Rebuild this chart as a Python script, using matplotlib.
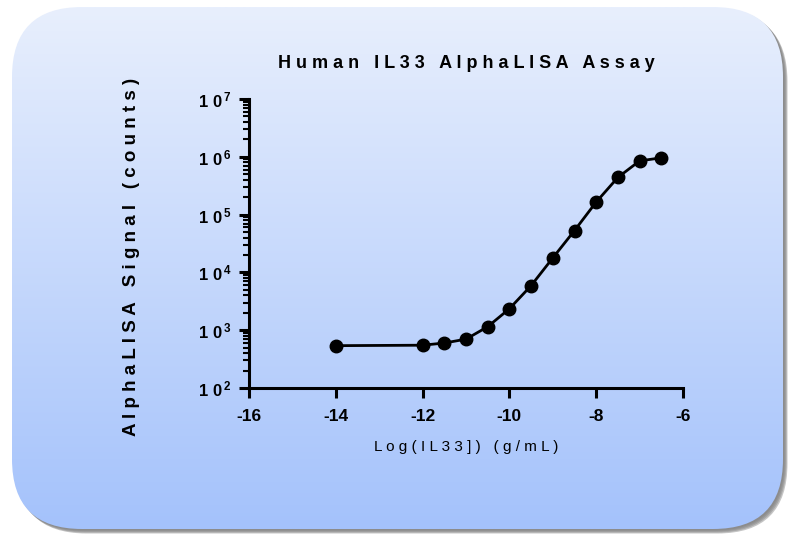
import numpy as np
import matplotlib
matplotlib.use("Agg")
import matplotlib.pyplot as plt
from matplotlib.patches import FancyBboxPatch
from matplotlib.ticker import FixedLocator, LogLocator, NullFormatter

plt.rcParams['font.family'] = ['Liberation Sans', 'DejaVu Sans']
plt.rcParams['mathtext.fontset'] = 'custom'
plt.rcParams['mathtext.bf'] = 'Liberation Sans:bold'
plt.rcParams['mathtext.rm'] = 'Liberation Sans:bold'

# data
log_conc = [-14, -12, -11.5, -11, -10.5, -10, -9.5, -9, -8.5, -8, -7.5, -7, -6.5]
signal = [540, 550, 600, 700, 1150, 2350, 5900, 17800, 53000, 165000, 440000, 850000, 960000]
x_ticks = [-16, -14, -12, -10, -8, -6]
y_exps = [2, 3, 4, 5, 6, 7]

W, H = 789, 536
fig = plt.figure(figsize=(W / 100, H / 100), dpi=100)

# background panel with gradient + soft shadow
bg = fig.add_axes([0, 0, 1, 1])
bg.set_xlim(0, W)
bg.set_ylim(H, 0)
bg.axis('off')
x0, y0, x1, y1 = 12, 7, 783, 529
rad = 70
for i, a in enumerate([0.25, 0.3, 0.35, 0.4]):
    d = 1.5 + i
    sh = FancyBboxPatch((x0 + d, y0 + d), x1 - x0, y1 - y0,
                        boxstyle="round,pad=0,rounding_size=%d" % rad,
                        fc='#707070', ec='none', alpha=a, zorder=0)
    bg.add_patch(sh)
panel = FancyBboxPatch((x0, y0), x1 - x0, y1 - y0,
                       boxstyle="round,pad=0,rounding_size=%d" % rad,
                       fc='none', ec='none', zorder=1)
bg.add_patch(panel)
top = np.array([232, 239, 253]) / 255
bot = np.array([164, 194, 251]) / 255
t = np.linspace(0, 1, 256)[:, None, None]
grad = top * (1 - t) + bot * t
grad = np.repeat(grad, 2, axis=1)
im = bg.imshow(grad, extent=[x0, x1, y1, y0], aspect='auto', interpolation='bilinear', zorder=2)
im.set_clip_path(panel)

# main plot
ax = fig.add_axes([249 / W, 1 - 388 / H, (683 - 249) / W, (388 - 99) / H])
ax.patch.set_alpha(0)
ax.plot(log_conc, signal, color='black', lw=2, marker='o', ms=9, mfc='black', mec='black')
ax.set_yscale('log')
ax.set_xlim(-16, -6)
ax.set_ylim(1e2, 1e7)
for s in ['top', 'right']:
    ax.spines[s].set_visible(False)
for s in ['left', 'bottom']:
    ax.spines[s].set_linewidth(2.2)

ax.xaxis.set_major_locator(FixedLocator(x_ticks))
ax.set_xticklabels([str(v) for v in x_ticks], fontsize=12.5, fontweight='bold')
ax.yaxis.set_major_locator(FixedLocator([10.0 ** e for e in y_exps]))
ax.set_yticklabels([r'$\mathbf{1\,\,0^{\,%d}}$' % e for e in y_exps], fontsize=12)
ax.yaxis.set_minor_locator(LogLocator(base=10, subs=np.arange(2, 10)))
ax.yaxis.set_minor_formatter(NullFormatter())
ax.tick_params(axis='both', which='major', direction='out', length=7, width=2.2, pad=5)
ax.tick_params(axis='x', which='major', pad=8)
ax.tick_params(axis='y', which='minor', direction='out', length=4, width=1.5)

ax.set_title('H u m a n   I L 3 3   A l p h a L I S A   A s s a y',
             fontsize=13, fontweight='bold', pad=22)
ax.set_xlabel('L o g ( I L 3 3 ] )   ( g / m L )', fontsize=11, labelpad=12)
ax.set_ylabel('A l p h a L I S A   S i g n a l   ( c o u n t s )',
              fontsize=13.5, fontweight='bold')
ax.yaxis.set_label_coords(-0.25, 0.453)

fig.savefig('out.png', dpi=100)
